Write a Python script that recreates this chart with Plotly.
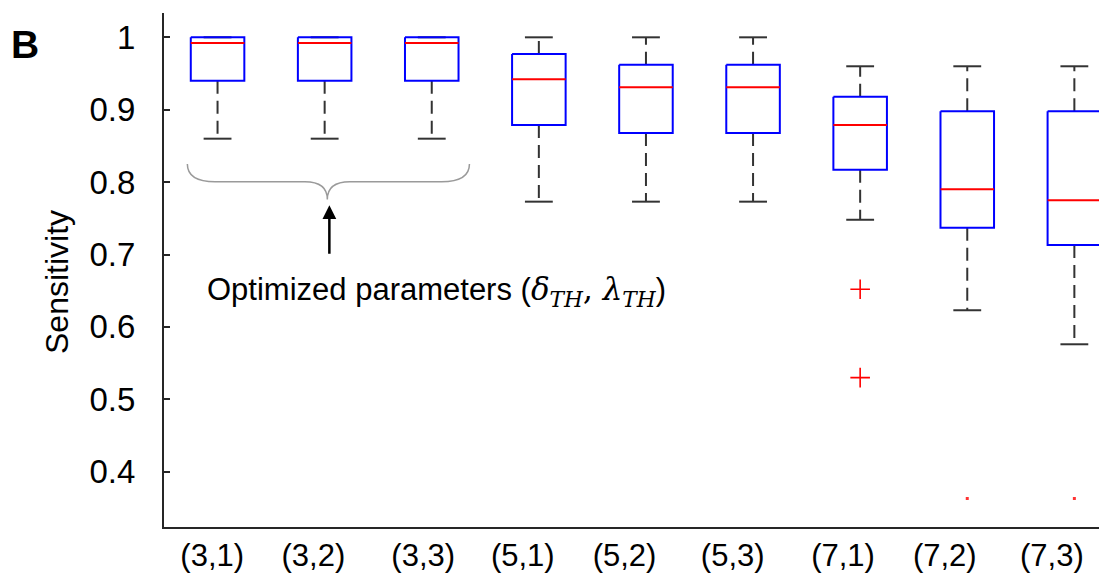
import numpy as np
import plotly.graph_objects as go

# ---------------- data ----------------
categories = ["(3,1)", "(3,2)", "(3,3)", "(5,1)", "(5,2)", "(5,3)", "(7,1)", "(7,2)", "(7,3)"]
upper_whisker = [1.000, 1.000, 1.000, 1.000, 1.000, 1.000, 0.960, 0.960, 0.960]
q3 = [1.000, 1.000, 1.000, 0.977, 0.962, 0.962, 0.918, 0.898, 0.898]
median = [0.992, 0.992, 0.992, 0.942, 0.931, 0.931, 0.879, 0.790, 0.775]
q1 = [0.940, 0.940, 0.940, 0.879, 0.868, 0.868, 0.817, 0.737, 0.713]
lower_whisker = [0.860, 0.860, 0.860, 0.773, 0.773, 0.773, 0.748, 0.623, 0.576]
outlier_cat = ["(7,1)", "(7,1)"]
outlier_val = [0.652, 0.530]
dot_cat = ["(7,2)", "(7,3)"]
dot_val = [0.363, 0.363]
ytick_vals = [0.4, 0.5, 0.6, 0.7, 0.8, 0.9, 1.0]
ytick_text = ["0.4", "0.5", "0.6", "0.7", "0.8", "0.9", "1"]

# ---------------- layout helpers ----------------
pos = {c: i + 1 for i, c in enumerate(categories)}
BW = 0.25   # box half width
CW = 0.13   # cap half width
label_offsets = [-0.05, -0.105, -0.08, -0.15, -0.20, -0.19, -0.16, -0.21, -0.21]

# page body has an 8px margin; figure is sized to fit inside the window
PAGE_OFF = 8
FIG_W, FIG_H = 1107 - PAGE_OFF, 576 - PAGE_OFF
PLOT_L, PLOT_T, PLOT_B = 164, 13, 527          # in window pixels
ML = PLOT_L - PAGE_OFF
MT = PLOT_T - PAGE_OFF
MB = FIG_H - (PLOT_B - PAGE_OFF)
MR = 0
PW, PH = FIG_W - ML - MR, FIG_H - MT - MB


def px_x(x):
    return (x - PLOT_L) / PW


def px_y(y):
    return (PLOT_B - y) / PH


FONT = "Liberation Sans, Arial, sans-serif"

fig = go.Figure()

# whiskers (dashed)
wx, wy = [], []
for c, up, hi, lo, lw in zip(categories, upper_whisker, q3, q1, lower_whisker):
    x = pos[c]
    if up > hi:
        wx += [x, x, None]
        wy += [hi, up, None]
    if lw < lo:
        wx += [x, x, None]
        wy += [lo, lw, None]
fig.add_trace(go.Scatter(x=wx, y=wy, mode="lines", hoverinfo="skip",
                         line=dict(color="#333333", width=2, dash="13px,7px"),
                         showlegend=False))

# caps
cx, cy = [], []
for c, up, lw in zip(categories, upper_whisker, lower_whisker):
    x = pos[c]
    cx += [x - CW, x + CW, None, x - CW, x + CW, None]
    cy += [up, up, None, lw, lw, None]
fig.add_trace(go.Scatter(x=cx, y=cy, mode="lines", hoverinfo="skip",
                         line=dict(color="#333333", width=2), showlegend=False))

# boxes
bx, by = [], []
for c, hi, lo in zip(categories, q3, q1):
    x = pos[c]
    bx += [x - BW, x + BW, x + BW, x - BW, x - BW, None]
    by += [hi, hi, lo, lo, hi, None]
fig.add_trace(go.Scatter(x=bx, y=by, mode="lines", hoverinfo="skip",
                         line=dict(color="#0000FF", width=2), showlegend=False))

# medians
mx, my = [], []
for c, m in zip(categories, median):
    x = pos[c]
    mx += [x - BW, x + BW, None]
    my += [m, m, None]
fig.add_trace(go.Scatter(x=mx, y=my, mode="lines", hoverinfo="skip",
                         line=dict(color="#FF0000", width=2), showlegend=False))

# outliers
fig.add_trace(go.Scatter(x=[pos[c] for c in outlier_cat], y=outlier_val, mode="markers",
                         marker=dict(symbol="cross-thin", size=14,
                                     line=dict(color="#FF0000", width=1.6)),
                         showlegend=False))
fig.add_trace(go.Scatter(x=[pos[c] for c in dot_cat], y=dot_val, mode="markers",
                         marker=dict(symbol="square", size=3, color="#FF3333"),
                         showlegend=False))

# brace (data coordinates)
bl, br, bt = 0.718, 3.352, 2.025
ytop, yh, ytip = 0.825, 0.8005, 0.776
brace = (f"M {bl},{ytop} Q {bl},{yh} {bl+0.26},{yh} L {bt-0.21},{yh} "
         f"Q {bt},{yh} {bt},{ytip} Q {bt},{yh} {bt+0.21},{yh} "
         f"L {br-0.26},{yh} Q {br},{yh} {br},{ytop}")
fig.add_shape(type="path", path=brace, xref="x", yref="y",
              line=dict(color="#9a9a9a", width=1.5))

# arrow
fig.add_annotation(x=2.044, y=0.768, ax=2.044, ay=0.699, xref="x", yref="y",
                   axref="x", ayref="y", text="", showarrow=True,
                   arrowhead=2, arrowsize=1.1, arrowwidth=2.5, arrowcolor="black")

# annotation text
greek = "font-family:'DejaVu Serif', 'Liberation Serif', serif"
fig.add_annotation(
    x=px_x(205), y=px_y(291), xref="paper", yref="paper",
    xanchor="left", yanchor="middle", showarrow=False,
    text=("Optimized parameters (<span style=\"" + greek + "\"><i>δ</i><sub><i>TH</i></sub>, "
          "<i>λ</i><sub><i>TH</i></sub></span>)"),
    font=dict(family=FONT, size=31, color="black"))

# panel letter
fig.add_annotation(x=px_x(25), y=px_y(44), xref="paper", yref="paper",
                   xanchor="center", yanchor="middle", showarrow=False,
                   text="<b>B</b>", font=dict(family=FONT, size=39, color="black"))

# y title
fig.add_annotation(x=px_x(57), y=px_y(282), xref="paper", yref="paper",
                   xanchor="center", yanchor="middle", showarrow=False,
                   textangle=-90, text="Sensitivity",
                   font=dict(family=FONT, size=32, color="black"))

fig.update_layout(
    width=FIG_W, height=FIG_H,
    margin=dict(l=ML, r=MR, t=MT, b=MB, pad=0),
    paper_bgcolor="white", plot_bgcolor="white",
    font=dict(family=FONT, size=30, color="black"),
    xaxis=dict(range=[0.5, 9.38 - PAGE_OFF / 106.3], showgrid=False, zeroline=False,
               showline=True, linecolor="#262626", linewidth=2,
               tickmode="array",
               tickvals=[pos[c] + o for c, o in zip(categories, label_offsets)],
               ticktext=categories, ticks="", ticklabelstandoff=0,
               tickfont=dict(family=FONT, size=31, color="black")),
    yaxis=dict(range=[0.3236, 1.0336], showgrid=False, zeroline=False,
               showline=True, linecolor="#262626", linewidth=2,
               tickmode="array", tickvals=ytick_vals, ticktext=ytick_text,
               ticks="inside", ticklen=6, tickwidth=1.5, tickcolor="#262626",
               ticklabelstandoff=20,
               tickfont=dict(family=FONT, size=33, color="black")),
)

fig.write_html("out.html")
